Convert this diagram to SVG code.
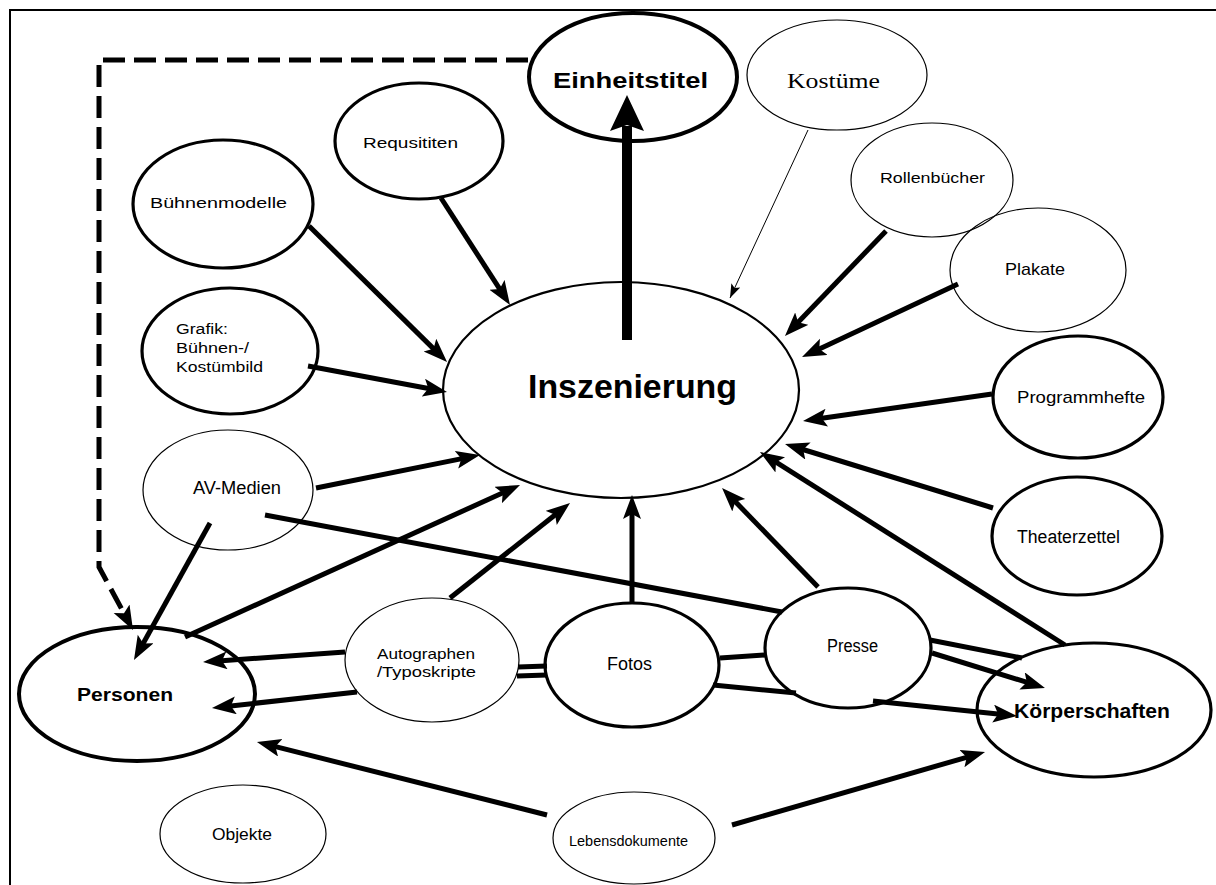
<svg xmlns="http://www.w3.org/2000/svg" width="1216" height="885" viewBox="0 0 1216 885">
<style>
  .node ellipse { fill: #fff; stroke: #000; }
  .thin { stroke-width: 1.2; }
  .mid { stroke-width: 2.2; }
  .thick { stroke-width: 3.2; }
  .heavy { stroke-width: 4; }
  .open { fill: none !important; }
  text { font-family: "Liberation Sans", Arial, sans-serif; fill: #000; }
  .b { font-weight: bold; }
  .serif { font-family: "Liberation Serif", "Times New Roman", serif; }
  .conn line, .conn path { stroke: #000; fill: none; }
  .a { stroke-width: 5; marker-end: url(#ah); }
  .p { stroke-width: 5; }
</style>
<defs>
  <marker id="ah" markerUnits="userSpaceOnUse" markerWidth="26" markerHeight="20" refX="12" refY="9" orient="auto">
    <path d="M0,0 L24,9 L0,18 L5,9 z" fill="#000"/>
  </marker>
  <marker id="ahs" markerUnits="userSpaceOnUse" markerWidth="16" markerHeight="12" refX="14" refY="5" orient="auto">
    <path d="M0,0 L14,5 L0,10 L3,5 z" fill="#000"/>
  </marker>
</defs>
<rect width="1216" height="885" fill="#fff"/>
<path d="M10,885 L10,10 L1216,10" fill="none" stroke="#000" stroke-width="2"/>

<g id="n-einheitstitel" class="node"><ellipse class="heavy" cx="633" cy="77" rx="104" ry="64"/><text class="b" x="553" y="88" font-size="22" textLength="155" lengthAdjust="spacingAndGlyphs">Einheitstitel</text></g>
<g id="n-kostueme" class="node"><ellipse class="thin" cx="837" cy="75" rx="90" ry="55"/><text class="serif" x="787" y="88" font-size="22" textLength="93" lengthAdjust="spacingAndGlyphs">Kostüme</text></g>
<g id="n-requisiten" class="node"><ellipse class="thick" cx="419" cy="141" rx="84" ry="58"/><text x="363" y="148" font-size="14" textLength="95" lengthAdjust="spacingAndGlyphs">Requsititen</text></g>
<g id="n-buehnenmodelle" class="node"><ellipse class="thick" cx="223" cy="204" rx="90" ry="64"/><text x="150" y="208" font-size="15" textLength="137" lengthAdjust="spacingAndGlyphs">Bühnenmodelle</text></g>
<g id="n-rollenbuecher" class="node"><ellipse class="thin open" cx="932" cy="180" rx="81" ry="57"/><text x="880" y="183" font-size="15" textLength="105" lengthAdjust="spacingAndGlyphs">Rollenbücher</text></g>
<g id="n-plakate" class="node"><ellipse class="thin open" cx="1038" cy="270" rx="88" ry="62"/><text x="1005" y="275" font-size="17" textLength="60" lengthAdjust="spacingAndGlyphs">Plakate</text></g>
<g id="n-grafik" class="node"><ellipse class="thick" cx="230" cy="351" rx="88" ry="63"/>
  <text x="176" y="334" font-size="14" textLength="52" lengthAdjust="spacingAndGlyphs">Grafik:</text>
  <text x="176" y="353" font-size="14" textLength="73" lengthAdjust="spacingAndGlyphs">Bühnen-/</text>
  <text x="176" y="372" font-size="14" textLength="87" lengthAdjust="spacingAndGlyphs">Kostümbild</text></g>
<g id="n-inszenierung" class="node"><ellipse class="mid" cx="621" cy="390" rx="178" ry="108"/><text class="b" x="528" y="398" font-size="34" textLength="209" lengthAdjust="spacingAndGlyphs">Inszenierung</text></g>
<g id="n-programmhefte" class="node"><ellipse class="thick" cx="1078" cy="397" rx="85" ry="61"/><text x="1017" y="403" font-size="17" textLength="128" lengthAdjust="spacingAndGlyphs">Programmhefte</text></g>
<g id="n-avmedien" class="node"><ellipse class="thin" cx="228" cy="490" rx="85" ry="60"/><text x="193" y="494" font-size="18" textLength="88" lengthAdjust="spacingAndGlyphs">AV-Medien</text></g>
<g id="n-theaterzettel" class="node"><ellipse class="thick" cx="1077" cy="536" rx="85" ry="59"/><text x="1017" y="543" font-size="18" textLength="103" lengthAdjust="spacingAndGlyphs">Theaterzettel</text></g>
<g id="n-personen" class="node"><ellipse class="heavy" cx="137" cy="694" rx="118" ry="67"/><text class="b" x="77" y="701" font-size="18" textLength="96" lengthAdjust="spacingAndGlyphs">Personen</text></g>
<g id="n-autographen" class="node"><ellipse class="thin" cx="432" cy="660" rx="87" ry="62"/>
  <text x="377" y="659" font-size="15" textLength="98" lengthAdjust="spacingAndGlyphs">Autographen</text>
  <text x="377" y="677" font-size="15" textLength="99" lengthAdjust="spacingAndGlyphs">/Typoskripte</text></g>
<g id="n-fotos" class="node"><ellipse class="thick" cx="632" cy="665" rx="87" ry="62"/><text x="607" y="670" font-size="18" textLength="45" lengthAdjust="spacingAndGlyphs">Fotos</text></g>
<g id="n-presse" class="node"><ellipse class="thick" cx="848" cy="648" rx="83" ry="60"/><text x="827" y="652" font-size="18" textLength="51" lengthAdjust="spacingAndGlyphs">Presse</text></g>
<g id="n-koerperschaften" class="node"><ellipse class="thick" cx="1094" cy="710" rx="117" ry="67"/><text class="b" x="1014" y="718" font-size="21" textLength="156" lengthAdjust="spacingAndGlyphs">Körperschaften</text></g>
<g id="n-objekte" class="node"><ellipse class="thin" cx="243" cy="834" rx="83" ry="49"/><text x="212" y="840" font-size="17" textLength="60" lengthAdjust="spacingAndGlyphs">Objekte</text></g>
<g id="n-lebensdokumente" class="node"><ellipse class="thin" cx="634" cy="838" rx="81" ry="46"/><text x="569" y="846" font-size="14" textLength="119" lengthAdjust="spacingAndGlyphs">Lebensdokumente</text></g>

<g id="connectors" class="conn">
  <path d="M528,60 L99,60 L99,567 L127.3,619.4" stroke-width="5" stroke-dasharray="22 9" marker-end="url(#ah)"/>
  <line x1="627" y1="340" x2="627" y2="126" stroke-width="10"/>
  <polygon points="627,95 644,131 627,125 610,131" fill="#000" stroke="none"/>
  <line class="a" x1="441" y1="198" x2="503.5" y2="294.9"/>
  <line class="a" x1="309" y1="226" x2="438.5" y2="353.6"/>
  <line class="a" x1="308" y1="366" x2="435.2" y2="389.8"/>
  <line class="a" x1="316" y1="488" x2="468.2" y2="457.4"/>
  <line class="a" x1="185" y1="637" x2="509.1" y2="490"/>
  <line class="a" x1="210" y1="523" x2="139.8" y2="649.5"/>
  <line class="p" x1="265" y1="515" x2="782" y2="612"/>
  <line class="p" x1="930" y1="640" x2="1022" y2="658"/>
  <line class="a" x1="450" y1="598" x2="560.6" y2="510.5"/>
  <line class="a" x1="632" y1="603" x2="632" y2="507"/>
  <line class="a" x1="818" y1="587" x2="730.4" y2="496.6"/>
  <line class="a" x1="1065" y1="645" x2="770.1" y2="458.4" stroke-width="6"/>
  <line class="a" x1="993" y1="508" x2="796.5" y2="447.5"/>
  <line class="a" x1="992" y1="394" x2="814.9" y2="419.3"/>
  <line class="a" x1="958" y1="284" x2="812.9" y2="351.9"/>
  <line class="a" x1="886" y1="231" x2="793.3" y2="327.3"/>
  <line x1="808" y1="130" x2="730" y2="298" stroke-width="1" marker-end="url(#ahs)"/>
  <line class="a" x1="345" y1="652" x2="215" y2="661.2"/>
  <line class="a" x1="357" y1="692" x2="223.9" y2="706.7"/>
  <line class="p" x1="518" y1="667" x2="547" y2="666"/>
  <line class="p" x1="517" y1="676" x2="547" y2="675"/>
  <line class="p" x1="720" y1="658" x2="765" y2="655"/>
  <line class="p" x1="713" y1="685" x2="796" y2="693"/>
  <line class="a" x1="873" y1="701" x2="1005.1" y2="714.8"/>
  <line class="a" x1="932" y1="653" x2="1033.5" y2="684.4"/>
  <line class="a" x1="547" y1="815" x2="268.6" y2="744.9"/>
  <line class="a" x1="732" y1="825" x2="973.5" y2="755.3"/>
</g>
</svg>
